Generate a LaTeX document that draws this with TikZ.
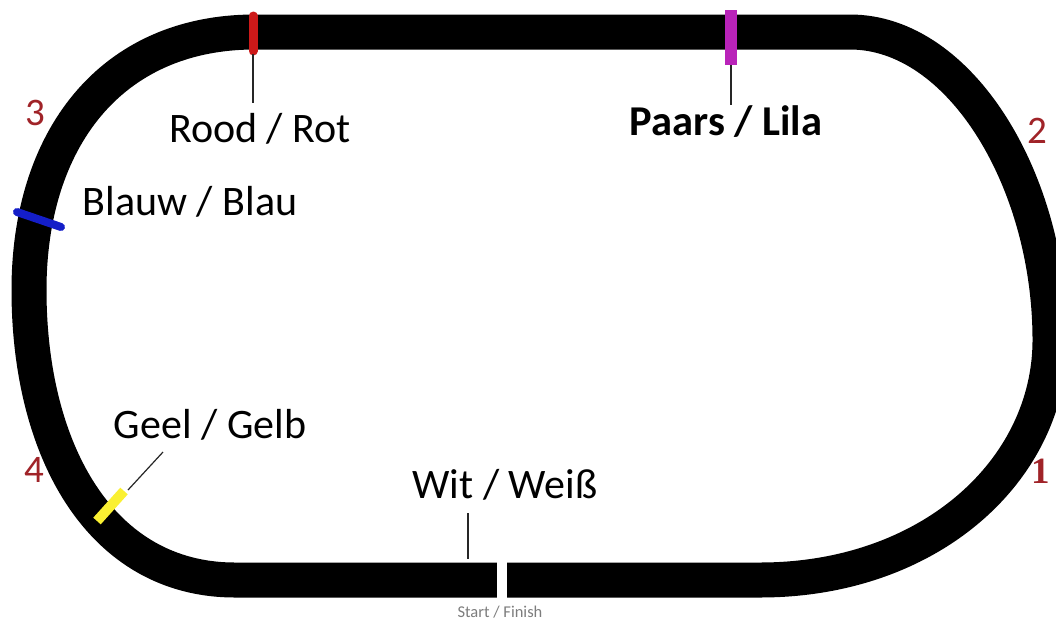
\documentclass[tikz,border=0pt]{standalone}
\usepackage{fontspec}
\setmainfont{Carlito}
\newfontfamily\serifnum{Liberation Serif}
\definecolor{numred}{RGB}{160,35,40}
\definecolor{mred}{RGB}{205,25,25}
\definecolor{mpurple}{RGB}{185,35,185}
\definecolor{mblue}{RGB}{20,30,200}
\definecolor{myellow}{RGB}{250,240,50}
\definecolor{sfgrey}{RGB}{125,125,125}
\begin{document}
\begin{tikzpicture}[x=1pt,y=-1pt,
  track/.style={line width=35pt, black, line join=round},
  leader/.style={line width=1.2pt, black!85},
  lbl/.style={font=\fontsize{42}{42}\selectfont, anchor=base, inner sep=0pt},
  num/.style={font=\fontsize{39}{39}\selectfont, text=numred, anchor=base, inner sep=0pt}]
\useasboundingbox[fill=white] (0,0) rectangle (1056,621);
% track
\draw[track] (255,32) -- (850,32)
  .. controls (960,32) and (1050,180) .. (1050,340)
  .. controls (1050,470) and (930,580) .. (760,580)
  -- (235,580)
  .. controls (100,580) and (29,450) .. (29,290)
  .. controls (29,140) and (110,32) .. (255,32) -- cycle;
% start / finish gap
\fill[white] (497,555) rectangle (507,606);
% markers
\draw[mred, line width=9pt, line cap=round] (253,16) -- (253,51);
\fill[mpurple] (725,10) rectangle (737,65);
\draw[mblue, line width=8pt, line cap=round] (17,212) -- (61,227);
\draw[myellow, line width=10pt] (97,521) -- (124,491);
% leader coordinates
\coordinate (redA) at (253,54);
\coordinate (redB) at (253,103);
\coordinate (purA) at (731,65);
\coordinate (purB) at (731,105);
\coordinate (yelA) at (128,490);
\coordinate (yelB) at (163,452);
\coordinate (witA) at (468,513);
\coordinate (witB) at (468,559);
\draw[leader] (redA) -- (redB);
\draw[leader] (purA) -- (purB);
\draw[leader] (yelA) -- (yelB);
\draw[leader] (witA) -- (witB);
% labels
\node[lbl] (rood) at (260,142) {Rood / Rot};
\node[lbl, font=\fontsize{42.5}{42.5}\selectfont\bfseries] (paars) at (726,135) {Paars / Lila};
\node[lbl] (blauw) at (190,215) {Blauw / Blau};
\node[lbl] (geel) at (210,438) {Geel / Gelb};
\node[lbl] (wit) at (505,498) {Wit / Weiß};
\node[lbl, font=\fontsize{16.5}{16.5}\selectfont, text=sfgrey] (start) at (500,617) {Start / Finish};
% turn numbers
\node[num] (n3) at (35,125) {3};
\node[num] (n2) at (1037,143) {2};
\node[num, font=\fontsize{37}{37}\selectfont\serifnum\bfseries] (n1) at (1041,483) {1};
\node[num] (n4) at (34,482) {4};
\end{tikzpicture}
\end{document}
